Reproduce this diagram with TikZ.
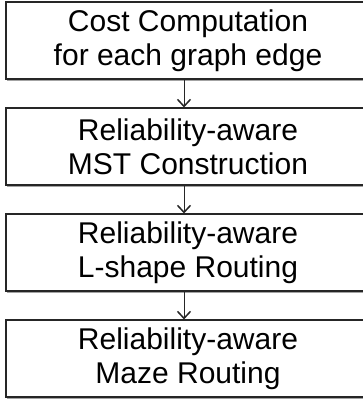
\documentclass[tikz,border=0pt]{standalone}
\usepackage{fontspec}
\setmainfont{Liberation Sans}
\usetikzlibrary{shadows,arrows.meta}

\begin{document}
\begin{tikzpicture}[x=1pt,y=1pt]
\tikzset{
    stage/.style={rectangle, draw=black!85, line width=1.1pt, fill=white, minimum width=364pt, minimum height=77pt, inner sep=0pt, align=center, font=\fontsize{30}{34}\selectfont, drop shadow={shadow xshift=1.2pt, shadow yshift=-1.6pt, fill=black!45, opacity=0.8}},
    flow/.style={-{Straight Barb[length=7pt,width=13pt,line width=1.5pt]}, line width=0.9pt, black!85}
}
\useasboundingbox (0,0) rectangle (363,-405);

% --- nodes ---
\node[stage] (cost) at (188,-40.5) {Cost Computation\\for each graph edge};
\node[stage] (mst) at (188,-146.5) {Reliability-aware\\MST Construction};
\node[stage] (lshape) at (188,-252.5) {Reliability-aware\\L-shape Routing};
\node[stage] (maze) at (188,-358.5) {Reliability-aware\\Maze Routing};

% --- edges ---
\draw[flow] ([xshift=-4pt]cost.south)--([xshift=-4pt]mst.north);
\draw[flow] ([xshift=-4pt]mst.south)--([xshift=-4pt]lshape.north);
\draw[flow] ([xshift=-4pt]lshape.south)--([xshift=-4pt]maze.north);
\end{tikzpicture}
\end{document}
